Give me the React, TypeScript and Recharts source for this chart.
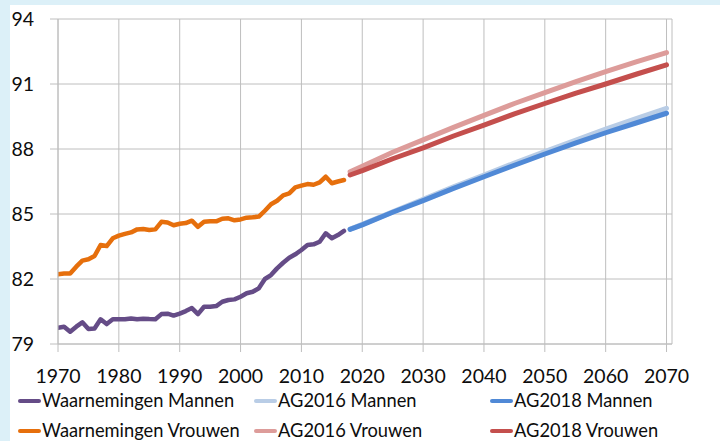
import React from 'react';
import { LineChart, Line, XAxis, YAxis, CartesianGrid, Legend } from 'recharts';

const obsYears = [1970,1971,1972,1973,1974,1975,1976,1977,1978,1979,1980,1981,1982,1983,1984,1985,1986,1987,1988,1989,1990,1991,1992,1993,1994,1995,1996,1997,1998,1999,2000,2001,2002,2003,2004,2005,2006,2007,2008,2009,2010,2011,2012,2013,2014,2015,2016,2017];
const obsMannen = [79.75,79.8,79.57,79.8,80.0,79.69,79.72,80.14,79.92,80.14,80.14,80.14,80.18,80.14,80.17,80.15,80.14,80.38,80.4,80.31,80.4,80.52,80.66,80.38,80.72,80.72,80.75,80.95,81.03,81.06,81.18,81.34,81.41,81.57,82.0,82.18,82.49,82.75,82.98,83.14,83.34,83.57,83.6,83.72,84.11,83.88,84.03,84.22];
const obsVrouwen = [82.22,82.25,82.25,82.57,82.85,82.91,83.06,83.57,83.52,83.88,84.0,84.08,84.15,84.29,84.31,84.26,84.29,84.64,84.61,84.48,84.55,84.58,84.69,84.41,84.64,84.66,84.66,84.78,84.8,84.71,84.75,84.83,84.85,84.88,85.15,85.45,85.61,85.86,85.95,86.23,86.31,86.38,86.35,86.46,86.72,86.42,86.5,86.57];

const projYears = [2018,2020,2025,2030,2035,2040,2045,2050,2055,2060,2065,2070];
const ag2016Mannen = [84.3,84.52,85.1,85.68,86.25,86.8,87.35,87.88,88.4,88.92,89.4,89.88];
const ag2018Mannen = [84.29,84.5,85.08,85.62,86.18,86.72,87.25,87.77,88.27,88.75,89.2,89.65];
const ag2016Vrouwen = [86.95,87.2,87.85,88.42,89.0,89.55,90.1,90.6,91.1,91.57,92.02,92.45];
const ag2018Vrouwen = [86.8,87.0,87.55,88.05,88.6,89.1,89.62,90.1,90.57,91.0,91.45,91.88];

const xTicks = [1970,1980,1990,2000,2010,2020,2030,2040,2050,2060,2070];
const yTicks = [79,82,85,88,91,94];

const seriesNames = ['Waarnemingen Mannen','AG2016 Mannen','AG2018 Mannen','Waarnemingen Vrouwen','AG2016 Vrouwen','AG2018 Vrouwen'];
const seriesColors = ['#654C87','#B9CDE6','#5089D6','#E66F0C','#DD9C9A','#C44F4D'];

const build = (years: number[], vals: number[]) => years.map((y, i) => ({ year: y, v: vals[i] }));

const dObsM = build(obsYears, obsMannen);
const dObsV = build(obsYears, obsVrouwen);
const dA16M = build(projYears, ag2016Mannen);
const dA18M = build(projYears, ag2018Mannen);
const dA16V = build(projYears, ag2016Vrouwen);
const dA18V = build(projYears, ag2018Vrouwen);

const FONT = 'Lato, "Open Sans", sans-serif';
const GRID = '#BEBEBE';

const XTick = (props: any) => {
  const { x, y, payload } = props;
  return (
    <text x={x} y={y + 31} textAnchor="middle" fontFamily={FONT} fontSize={19.5} fill="#0d0d0d">
      {payload.value}
    </text>
  );
};

const YTick = (props: any) => {
  const { x, y, payload } = props;
  return (
    <text x={x} y={y} dy={7} textAnchor="end" fontFamily={FONT} fontSize={19.5} fill="#0d0d0d">
      {payload.value}
    </text>
  );
};

const colX = [18, 254, 490];
const rowY = [3, 33];

const MyLegend = () => (
  <div style={{ position: 'relative', width: 720, height: 55, fontFamily: FONT, fontSize: 18.3, color: '#0d0d0d' }}>
    {seriesNames.map((name, i) => {
      const col = i % 3;
      const row = Math.floor(i / 3);
      return (
        <div key={name} style={{ position: 'absolute', left: colX[col], top: rowY[row], whiteSpace: 'nowrap', lineHeight: 'normal' }}>
          <span style={{ display: 'inline-block', width: 23, height: 4, background: seriesColors[i], borderRadius: 2, verticalAlign: 'middle', marginRight: 1, position: 'relative', top: -1 }} />
          <span>{name}</span>
        </div>
      );
    })}
  </div>
);

export default function App() {
  return (
    <div style={{ position: 'absolute', left: 0, top: 0, width: 720, height: 441, background: '#DCF0F8', overflow: 'hidden' }}>
      <div style={{ position: 'absolute', left: 10, top: 5, width: 710, height: 436, background: '#FFFFFF' }} />
      <LineChart
        width={720}
        height={441}
        margin={{ top: 19, right: 48, left: 8, bottom: 67 }}
        style={{ position: 'absolute', left: 0, top: 0 }}
      >
        <CartesianGrid stroke={GRID} strokeWidth={1} />
        <XAxis
          type="number"
          dataKey="year"
          domain={[1970, 2070.9]}
          ticks={xTicks}
          interval={0}
          height={30}
          tickSize={8}
          tickMargin={0}
          stroke={GRID}
          tick={<XTick />}
          allowDataOverflow
        />
        <YAxis
          type="number"
          domain={[79, 94]}
          ticks={yTicks}
          interval={0}
          width={50}
          tickSize={8}
          tickMargin={16}
          stroke={GRID}
          tick={<YTick />}
          allowDataOverflow
        />
        <Legend
          layout="horizontal"
          verticalAlign="middle"
          align="center"
          wrapperStyle={{ top: 386, left: 0, width: 720, height: 55 }}
          content={() => <MyLegend />}
        />
        <Line data={dObsM} dataKey="v" name={seriesNames[0]} stroke={seriesColors[0]} strokeWidth={4.5} dot={false} strokeLinecap="round" strokeLinejoin="round" isAnimationActive={false} />
        <Line data={dObsV} dataKey="v" name={seriesNames[3]} stroke={seriesColors[3]} strokeWidth={4.5} dot={false} strokeLinecap="round" strokeLinejoin="round" isAnimationActive={false} />
        <Line data={dA16M} dataKey="v" name={seriesNames[1]} stroke={seriesColors[1]} strokeWidth={5} dot={false} strokeLinecap="round" strokeLinejoin="round" isAnimationActive={false} />
        <Line data={dA16V} dataKey="v" name={seriesNames[4]} stroke={seriesColors[4]} strokeWidth={5} dot={false} strokeLinecap="round" strokeLinejoin="round" isAnimationActive={false} />
        <Line data={dA18M} dataKey="v" name={seriesNames[2]} stroke={seriesColors[2]} strokeWidth={5} dot={false} strokeLinecap="round" strokeLinejoin="round" isAnimationActive={false} />
        <Line data={dA18V} dataKey="v" name={seriesNames[5]} stroke={seriesColors[5]} strokeWidth={5} dot={false} strokeLinecap="round" strokeLinejoin="round" isAnimationActive={false} />
      </LineChart>
    </div>
  );
}
